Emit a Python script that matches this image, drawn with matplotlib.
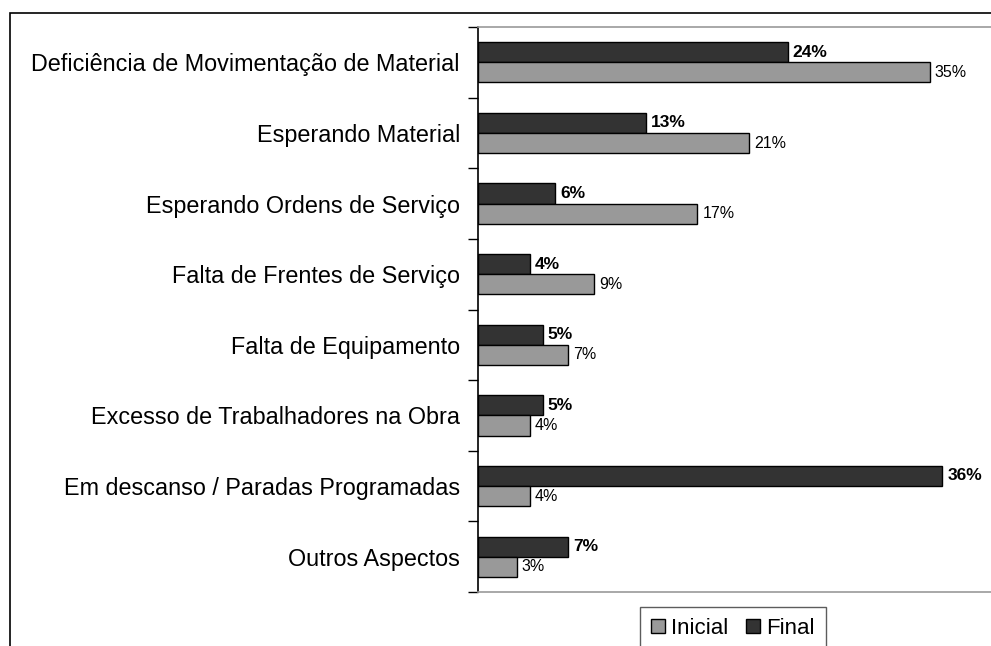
import numpy as np
import matplotlib.pyplot as plt
from matplotlib.patches import Rectangle

plt.rcParams['font.family'] = ['Liberation Sans', 'DejaVu Sans']

# dados (%)
categorias = ['Deficiência de Movimentação de Material', 'Esperando Material',
              'Esperando Ordens de Serviço', 'Falta de Frentes de Serviço',
              'Falta de Equipamento', 'Excesso de Trabalhadores na Obra',
              'Em descanso / Paradas Programadas', 'Outros Aspectos']
inicial = [35, 21, 17, 9, 7, 4, 4, 3]
final = [24, 13, 6, 4, 5, 5, 36, 7]

W, H = 991, 646
fig = plt.figure(figsize=(W / 100, H / 100), dpi=100)

# borda externa (cortada à direita e embaixo)
fig.patches.append(Rectangle((10 / W, -0.1), 1.2, 1 - 13 / H + 0.1,
                             transform=fig.transFigure, fill=False,
                             edgecolor='black', linewidth=1.2))

ax = fig.add_axes([478 / W, 1 - 592 / H, (991 - 478) / W, (592 - 27) / H])

n = len(categorias)
y = np.arange(n)
h = 0.285
ax.barh(y - h / 2, final, height=h, color='#333333', edgecolor='black', linewidth=1, label='Final')
ax.barh(y + h / 2, inicial, height=h, color='#999999', edgecolor='black', linewidth=1, label='Inicial')

for i in range(n):
    ax.text(final[i] + 0.4, y[i] - h / 2, f'{final[i]}%', va='center', ha='left',
            fontsize=12.5, fontweight='bold')
    ax.text(inicial[i] + 0.4, y[i] + h / 2, f'{inicial[i]}%', va='center', ha='left',
            fontsize=11.5)

ax.set_ylim(n - 0.5, -0.5)
ax.set_xlim(0, (991 - 478) / 12.9)
ax.set_yticks(y)
ax.set_yticklabels(categorias, fontsize=16.8)
ax.set_yticks(np.arange(n + 1) - 0.5, minor=True)
ax.tick_params(axis='y', which='major', length=0, pad=13)
ax.tick_params(axis='y', which='minor', length=7, width=1, direction='out')
ax.set_xticks([])

ax.spines['left'].set_color('black')
ax.spines['left'].set_linewidth(1.2)
for s in ['top', 'bottom']:
    ax.spines[s].set_color('#999999')
    ax.spines[s].set_linewidth(1.2)
ax.spines['right'].set_visible(False)

hd, lb = ax.get_legend_handles_labels()
leg = fig.legend(hd[::-1], lb[::-1], loc='upper center', bbox_to_anchor=(733 / W, 1 - 607 / H),
                 ncol=2, fontsize=16, frameon=True, fancybox=False, handlelength=0.6,
                 handleheight=0.6, handletextpad=0.3, columnspacing=0.8, borderpad=0.5,
                 borderaxespad=0)
leg.get_frame().set_edgecolor('#333333')
leg.get_frame().set_linewidth(1)

fig.savefig('out.png', dpi=100)
